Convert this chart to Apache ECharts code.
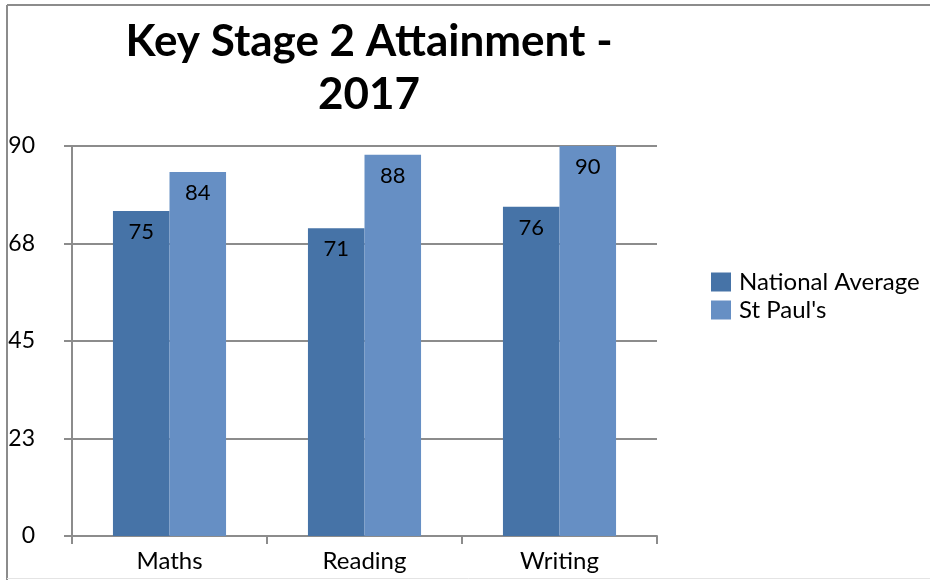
<!DOCTYPE html>
<html>
<head>
<meta charset="utf-8">
<script src="https://cdn.jsdelivr.net/npm/echarts@6/dist/echarts.min.js"></script>
<style>
	html, body { margin: 0; padding: 0; background: #fff; }
	#main { width: 930px; height: 580px; }
</style>
</head>
<body>
<div id="main"></div>
<script>
let categories = ['Maths', 'Reading', 'Writing']
let nationalAverage = [75, 71, 76]
let stPauls = [84, 88, 90]
let seriesNames = ['National Average', "St Paul's"]

let font = 'Lato'
let gridColor = '#8c8c8c'

let labelOpt = {
	show: true,
	position: 'insideTop',
	distance: 10,
	color: '#000',
	fontFamily: font,
	fontSize: 22
}

let opt = {
	animation: false,
	title: {
		text: 'Key Stage 2 Attainment -\n2017',
		left: 364,
		top: 10,
		textAlign: 'center',
		textStyle: {
			fontFamily: font,
			fontWeight: 'bold',
			fontSize: 44,
			lineHeight: 53,
			color: '#000'
		}
	},
	legend: {
		orient: 'vertical',
		left: 706,
		top: 265,
		itemWidth: 20,
		itemHeight: 19,
		itemGap: 4,
		icon: 'rect',
		textStyle: {
			fontFamily: font,
			fontSize: 24,
			color: '#000',
			padding: [0, 0, 0, 3]
		},
		data: seriesNames
	},
	grid: {
		left: 72,
		right: 273,
		top: 146,
		bottom: 44
	},
	xAxis: {
		type: 'category',
		data: categories,
		axisLine: { lineStyle: { color: gridColor, width: 2 } },
		axisTick: { show: true, length: 8, lineStyle: { color: gridColor, width: 2 } },
		axisLabel: {
			color: '#000',
			fontFamily: font,
			fontSize: 24,
			margin: 13
		}
	},
	yAxis: {
		type: 'value',
		min: 0,
		max: 90,
		interval: 22.5,
		axisLine: { show: true, lineStyle: { color: gridColor, width: 2 } },
		axisTick: { show: true, length: 8, lineStyle: { color: gridColor, width: 2 } },
		splitLine: { lineStyle: { color: gridColor, width: 2 } },
		axisLabel: {
			color: '#000',
			fontFamily: font,
			fontSize: 23,
			margin: 37,
			formatter: (v) => Math.round(v)
		}
	},
	series: [
		{
			name: seriesNames[0],
			type: 'bar',
			data: nationalAverage,
			barGap: '0%',
			barCategoryGap: '42%',
			itemStyle: { color: '#4673a7' },
			label: labelOpt
		},
		{
			name: seriesNames[1],
			type: 'bar',
			data: stPauls,
			itemStyle: { color: '#668fc4' },
			label: labelOpt
		}
	],
	graphic: [
		{ type: 'line', shape: { x1: 7, y1: 5, x2: 930, y2: 5 }, style: { stroke: '#8c8c8c', lineWidth: 2 } },
		{ type: 'line', shape: { x1: 7, y1: 5, x2: 7, y2: 580 }, style: { stroke: '#8c8c8c', lineWidth: 2 } },
		{ type: 'line', shape: { x1: 7, y1: 578.5, x2: 930, y2: 578.5 }, style: { stroke: '#e4e4e4', lineWidth: 1 } }
	]
}

let myChart = echarts.init(document.querySelector('#main'))
myChart.setOption(opt, true)
</script>
</body>
</html>
